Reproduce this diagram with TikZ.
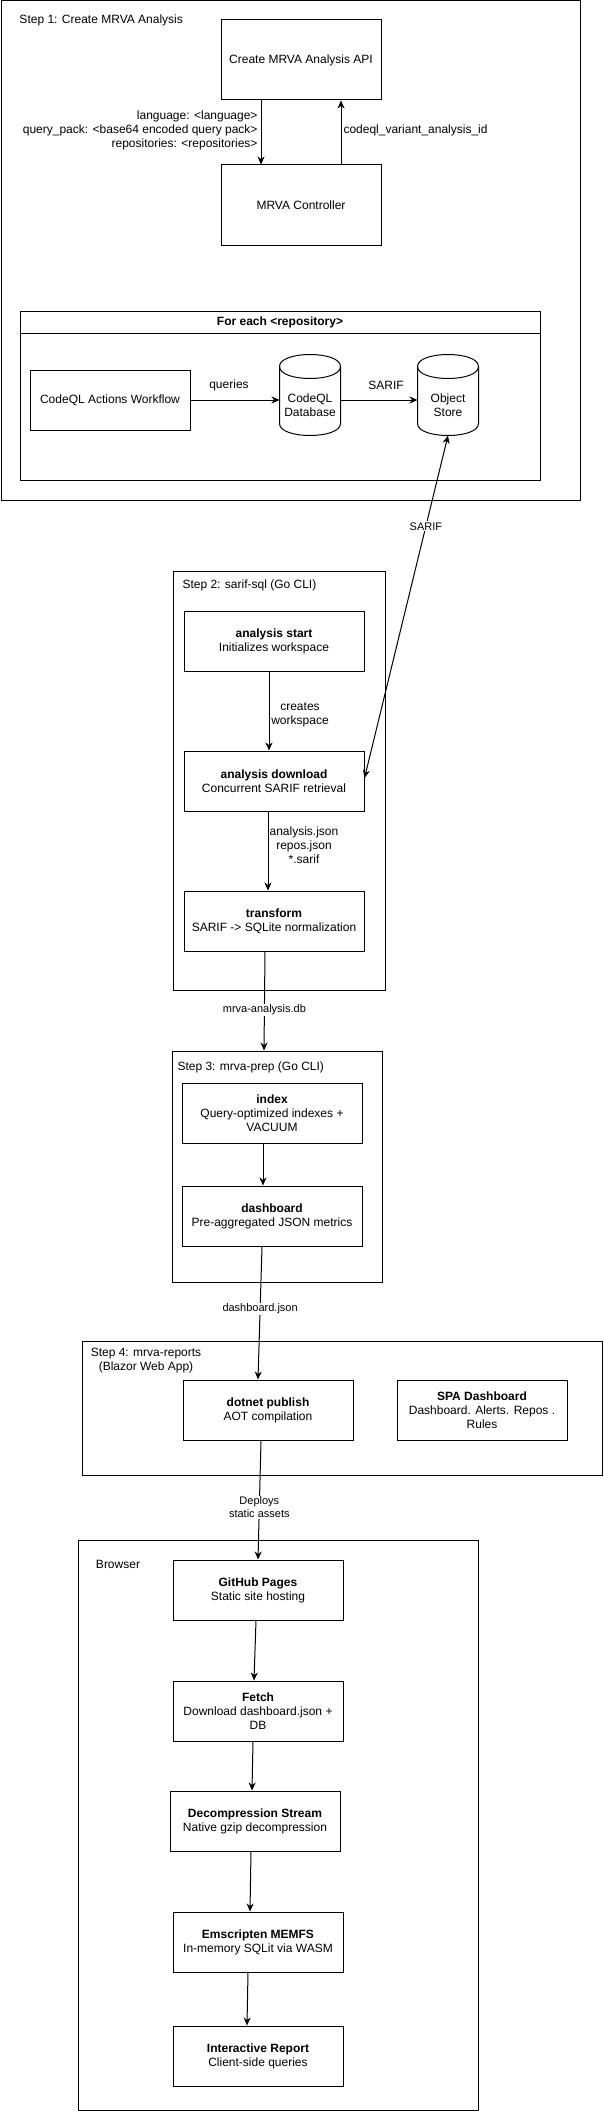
\documentclass[tikz,border=0pt]{standalone}
\usepackage{fontspec}
\setmainfont{Liberation Sans}
\usetikzlibrary{arrows.meta, positioning, calc}

\newcommand{\drawcyl}[1]{%
  \draw ($(#1.north west)+(0,12)$) .. controls ($(#1.north west)+(0,-4)$) and ($(#1.north east)+(0,-4)$) .. ($(#1.north east)+(0,12)$)
    -- ($(#1.south east)+(0,-12)$) .. controls ($(#1.south east)+(0,4)$) and ($(#1.south west)+(0,4)$) .. ($(#1.south west)+(0,-12)$) -- cycle;
  \draw ($(#1.north west)+(0,12)$) .. controls ($(#1.north west)+(0,28)$) and ($(#1.north east)+(0,28)$) .. ($(#1.north east)+(0,12)$);}

\begin{document}
\begin{tikzpicture}[x=1pt, y=-1pt, line width=1pt,
    font=\fontsize{12}{14}\selectfont,
    frame/.style={draw, inner sep=0pt},
    box/.style={draw, inner sep=0pt, align=center, minimum height=60pt},
    dbnode/.style={inner sep=0pt, minimum width=60pt, minimum height=80pt},
    arr/.style={-{Stealth[length=8pt, width=7pt, inset=2.5pt]}},
    biarr/.style={{Stealth[length=8pt, width=7pt, inset=2.5pt]}-{Stealth[length=8pt, width=7pt, inset=2.5pt]}},
    edgelbl/.style={fill=white, inner sep=1pt, align=center, font=\fontsize{11}{13}\selectfont}]
  \useasboundingbox (0,0) rectangle (603,2111);

  % step 1
  \node[frame, minimum width=579pt, minimum height=499pt] (step1) at (290.5,250.5) {};
  \node[anchor=west, inner sep=0pt] (step1lbl) at (19,20) {Step 1: Create MRVA Analysis};
  \node[box, minimum width=160pt, minimum height=80pt] (api) at (301,60) {Create MRVA Analysis API};
  \node[box, minimum width=160pt, minimum height=80pt] (ctrl) at (301,205) {MRVA Controller};
  \draw[arr] ([xshift=-40pt]api.south) -- ([xshift=-40pt]ctrl.north);
  \draw[arr] ([xshift=40pt]ctrl.north) -- ([xshift=40pt]api.south);
  \node[anchor=east, align=right, inner sep=0pt] (params) at (258,130) {language: <language>\\query\_pack: <base64 encoded query pack>\\repositories: <repositories>};
  \node[anchor=west, inner sep=0pt] (vaid) at (343,130) {codeql\_variant\_analysis\_id};

  \node[frame, minimum width=520pt, minimum height=169pt] (foreach) at (280,395.5) {};
  \draw ($(foreach.north west)+(0,23)$) -- ($(foreach.north east)+(0,23)$);
  \node (foreachlbl) at (280,322.5) {\textbf{For each <repository>}};
  \node[box, minimum width=160pt] (wf) at (110,400) {CodeQL Actions Workflow};
  \node[dbnode] (db) at (310,395) {};
  \drawcyl{db}
  \node[align=center] (dbtext) at (310,405) {CodeQL\\Database};
  \node[dbnode] (store) at (448,395) {};
  \drawcyl{store}
  \node[align=center] (storetext) at (448,405) {Object\\Store};
  \draw[arr] (wf.east) -- (wf.east -| db.west);
  \node (querieslbl) at (229,385) {queries};
  \draw[arr] (db.east |- wf.east) -- (wf.east -| store.west);
  \node (sariflbl) at (386,385) {SARIF};

  % step 2
  \node[frame, minimum width=212pt, minimum height=419pt] (step2) at (279,780.5) {};
  \node[anchor=west, inner sep=0pt] (step2lbl) at (182,585) {Step 2: sarif-sql (Go CLI)};
  \node[box, minimum width=180pt] (start) at (274,641) {\textbf{analysis start}\\Initializes workspace};
  \node[box, minimum width=180pt] (dl) at (274,781) {\textbf{analysis download}\\Concurrent SARIF retrieval};
  \node[box, minimum width=180pt] (tr) at (274,921) {\textbf{transform}\\SARIF -> SQLite normalization};
  \draw[arr] ([xshift=-5pt]start.south) -- ([xshift=-5pt]dl.north);
  \node[align=center] (createslbl) at (300,715) {creates\\workspace};
  \draw[arr] ([xshift=-6pt]dl.south) -- ([xshift=-6pt]tr.north);
  \node[align=center] (fileslbl) at (304,845) {analysis.json\\repos.json\\*.sarif};
  \draw[biarr] (store.south) -- node[edgelbl, pos=0.265] {SARIF} ([yshift=3pt]dl.east);

  % step 3
  \node[frame, minimum width=210pt, minimum height=231pt] (step3) at (277,1166.5) {};
  \node[anchor=west, inner sep=0pt] (step3lbl) at (177,1067) {Step 3: mrva-prep (Go CLI)};
  \node[box, minimum width=180pt] (idx) at (272,1113) {\textbf{index}\\Query-optimized indexes +\\VACUUM};
  \node[box, minimum width=180pt] (dash) at (272,1216) {\textbf{dashboard}\\Pre-aggregated JSON metrics};
  \draw[arr] ([xshift=-9pt]tr.south) -- node[edgelbl, pos=0.59] {mrva-analysis.db} ([xshift=-13pt]step3.north);
  \draw[arr] ([xshift=-9pt]idx.south) -- ([xshift=-9pt]dash.north);

  % step 4
  \node[frame, minimum width=520pt, minimum height=134pt] (step4) at (342,1408) {};
  \node[align=center] (step4lbl) at (146,1361) {Step 4: mrva-reports\\(Blazor Web App)};
  \node[box, minimum width=170pt] (pub) at (268,1410) {\textbf{dotnet publish}\\AOT compilation};
  \node[box, minimum width=170pt] (spa) at (482,1410) {\textbf{SPA Dashboard}\\Dashboard. Alerts. Repos .\\Rules};
  \draw[arr] ([xshift=-10pt]dash.south) -- node[edgelbl, pos=0.47] {dashboard.json} ([xshift=-10pt]pub.north);

  % browser
  \node[frame, minimum width=400pt, minimum height=570pt] (browser) at (278,1825) {};
  \node (browserlbl) at (118,1564) {Browser};
  \node[box, minimum width=170pt] (gh) at (258,1590) {\textbf{GitHub Pages}\\Static site hosting};
  \node[box, minimum width=170pt] (fetch) at (258,1711) {\textbf{Fetch}\\Download dashboard.json +\\DB};
  \node[box, minimum width=170pt] (dec) at (255,1821) {\textbf{Decompression Stream}\\Native gzip decompression};
  \node[box, minimum width=170pt] (emsc) at (258,1942) {\textbf{Emscripten MEMFS}\\In-memory SQLit via WASM};
  \node[box, minimum width=170pt] (ir) at (258,2056) {\textbf{Interactive Report}\\Client-side queries};
  \draw[arr] ([xshift=-7pt]pub.south) -- node[edgelbl, pos=0.56] {Deploys\\static assets} (gh.north);
  \draw[arr] ([xshift=-2pt]gh.south) -- ([xshift=-4pt]fetch.north);
  \draw[arr] ([xshift=-5pt]fetch.south) -- ([xshift=-3pt]dec.north);
  \draw[arr] ([xshift=-4pt]dec.south) -- ([xshift=-8pt]emsc.north);
  \draw[arr] ([xshift=-10pt]emsc.south) -- ([xshift=-11pt]ir.north);
\end{tikzpicture}
\end{document}
